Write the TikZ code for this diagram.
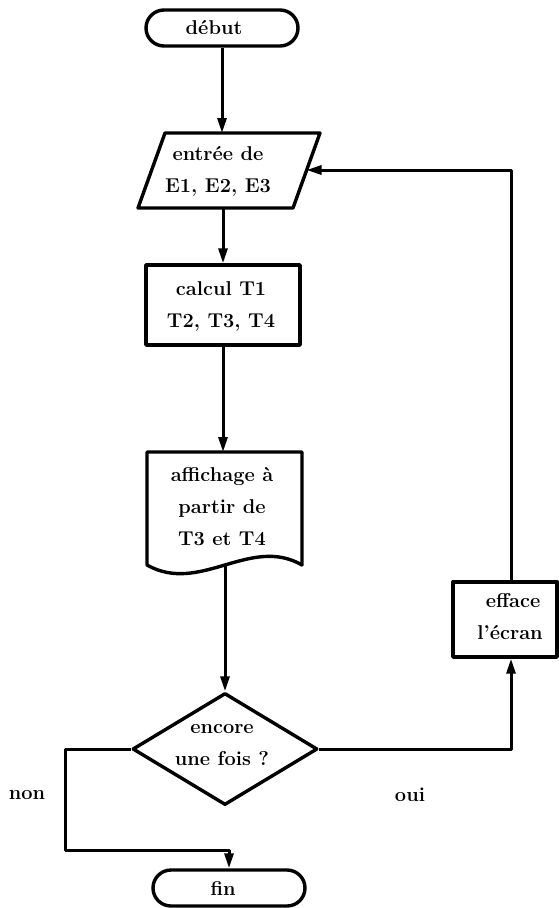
\documentclass[tikz,border=0pt]{standalone}
\usetikzlibrary{shapes.misc,shapes.geometric,arrows.meta}
\begin{document}
\begin{tikzpicture}[x=1pt,y=-1pt,line join=round,
  shapeline/.style={draw=black,line width=3.4pt},
  lbl/.style={font=\fontsize{20}{32}\selectfont\bfseries,align=center,inner sep=0pt},
  arr/.style={draw=black,line width=3pt,-{Triangle[length=15pt,width=9pt]}},
  terminal/.style={shapeline,rounded rectangle,minimum width=152pt,minimum height=36pt,inner sep=0pt},
  procbox/.style={shapeline,rectangle,inner sep=0pt}]
  \fill[white] (0,0) rectangle (559,908);
  \useasboundingbox (0,0) rectangle (559,908);

  % start terminal
  \node[terminal] (start) at (222,28) {};
  \node[lbl] (startlbl) at (214,28) {début};

  % input parallelogram
  \draw[shapeline] (165,133) -- (320,133) -- (293,208) -- (138,208) -- cycle;
  \coordinate (inTop) at (222,133);
  \coordinate (inBot) at (223,208);
  \coordinate (inRight) at (306.5,170);
  \node[lbl] (input) at (218,171) {entrée de\\E1, E2, E3};

  % computation box
  \node[procbox,minimum width=154pt,minimum height=80pt] (calc) at (223,305) {};
  \node[lbl] (calclbl) at (221,306) {calcul T1\\T2, T3, T4};

  % display (document shape)
  \draw[shapeline] (147,452) -- (302,452) -- (302,565)
        .. controls (250,535) and (200,595) .. (147,565) -- cycle;
  \coordinate (docTop) at (223,452);
  \coordinate (docBot) at (225,565);
  \node[lbl] (doclbl) at (222,507) {affichage à\\partir de\\T3 et T4};

  % decision
  \node[shapeline,diamond,minimum width=185pt,minimum height=112pt,inner sep=0pt] (dec) at (225,749) {};
  \node[lbl] (declbl) at (222,745) {encore\\une fois ?};

  % clear screen box
  \node[procbox,minimum width=104pt,minimum height=75pt] (eff) at (505,619.5) {};
  \node[lbl] (efflbl) at (510,617) {\hphantom{l}efface\\l’écran};

  % end terminal
  \node[terminal] (fin) at (229,888) {};
  \node[lbl] (finlbl) at (223,888) {fin};

  % branch labels
  \node[lbl] (non) at (27,795) {non};
  \node[lbl] (oui) at (410,795) {oui};

  % connectors
  \draw[arr] (start.south) -- (inTop);
  \draw[arr] (inBot) -- (calc.north);
  \draw[arr] (calc.south) -- (docTop);
  \draw[arr] (docBot) -- (dec.north);
  \coordinate (nonCorner) at (65,850);
  \draw[arr] (dec.west) -| (nonCorner) -| (fin.north);
  \draw[arr] (dec.east) -| ([xshift=6pt]eff.south);
  \draw[arr] ([xshift=6pt]eff.north) |- (inRight);
\end{tikzpicture}
\end{document}
